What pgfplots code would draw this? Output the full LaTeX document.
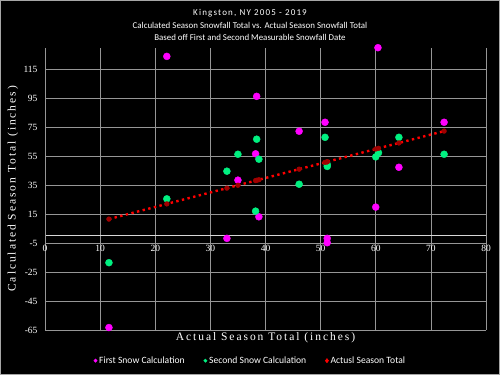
\documentclass[border=0pt]{standalone}
\usepackage{fontspec}
\setmainfont{Liberation Serif}
\newfontfamily\calibri{Carlito}
\newfontfamily\calibrisp[LetterSpace=13]{Carlito}
\newfontfamily\timessp[LetterSpace=17]{Liberation Serif}
\usepackage{pgfplots}
\pgfplotsset{compat=1.18}
\definecolor{mag}{RGB}{255,0,255}
\definecolor{grn}{RGB}{0,240,128}
\definecolor{gridc}{RGB}{150,150,150}
\definecolor{darkred}{RGB}{160,0,0}
\definecolor{axisc}{RGB}{215,215,215}

\begin{document}
\begin{tikzpicture}
\fill[black] (0,0) rectangle (500bp,375bp);
\draw[gray!70, line width=1bp] (0.5bp,0.5bp) rectangle (499.5bp,374.5bp);
\node[white, font=\calibrisp\fontsize{9bp}{11bp}\selectfont] at (250bp,362bp) {Kingston, NY 2005 - 2019};
\node[white, font=\calibri\fontsize{8.9bp}{10bp}\selectfont] at (250bp,350bp) {Calculated Season Snowfall Total vs. Actual Season Snowfall Total};
\node[white, font=\calibri\fontsize{8.9bp}{10bp}\selectfont] at (250bp,338bp) {Based off First and Second Measurable Snowfall Date};
\begin{axis}[
  at={(45bp,45bp)}, anchor=south west,
  scale only axis, width=441bp, height=282.3bp,
  xmin=0, xmax=80, ymin=-65, ymax=130,
  axis x line*=middle, axis y line*=left,
  hide obscured x ticks=false, hide obscured y ticks=false,
  x axis line style={axisc, line width=1bp, -},
  y axis line style={gridc, line width=0.6bp, -},
  xtick={0,10,...,80}, ytick={-65,-45,...,115},
  major tick length=0pt,
  grid=major, grid style={gridc, line width=0.6bp},
  /pgf/number format/assume math mode=true,
  tick label style={white, font=\fontsize{9.5bp}{10bp}\selectfont},
  xticklabel style={yshift=-6bp},
  yticklabel style={xshift=-4bp},
  every axis x label/.style={at={(axis description cs:0.5,-0.0283)}, anchor=center},
  every axis y label/.style={at={(axis description cs:-0.0726,0.5)}, rotate=90, anchor=center},
  xlabel={\timessp\fontsize{11.5bp}{12bp}\selectfont Actual Season Total (inches)},
  ylabel={\timessp\fontsize{11.5bp}{12bp}\selectfont Calculated Season Total (inches)},
  label style={white},
  legend style={at={(axis description cs:0.466,-0.1087)}, anchor=center, draw=none, fill=none,
    text=white, font=\calibri\fontsize{9.6bp}{10bp}\selectfont,
    /tikz/every even column/.append style={column sep=17bp}},
  legend columns=3,
  legend cell align=left,
]
\addplot[forget plot, only marks, mark=*, mark size=3.5bp, mark options={fill=mag, draw=mag}]
  coordinates {
  (11.6,-63.3) (22.1,124.0) (33.0,-1.7) (35.0,38.5) (38.2,56.7) (38.4,96.4)
  (38.8,13.2) (46.1,72.3) (50.8,78.5) (51.2,-1.7) (51.2,-4.7) (60.0,19.9)
  (60.4,130.0) (64.2,47.4) (72.4,78.5)
  };
\addplot[forget plot, only marks, mark=*, mark size=3.5bp, mark options={fill=grn, draw=grn}]
  coordinates {
  (11.6,-18.5) (22.1,25.6) (33.0,44.7) (35.0,56.4) (38.2,17.1) (38.4,66.8)
  (38.8,53.0) (46.1,35.7) (50.8,68.1) (51.2,49.3) (51.2,48.0) (60.0,54.6)
  (60.5,57.4) (64.2,68.1) (72.4,56.4)
  };
\addplot[forget plot, red, line width=2.4bp, dash pattern=on 2.4bp off 3.4bp,
  mark=*, mark size=2.4bp, mark options={solid, fill=darkred, draw=darkred, line width=0.4bp}]
  coordinates {
  (11.6,11.6) (22.1,22.1) (33.0,33.0) (35.0,35.0) (38.2,38.2) (38.4,38.4)
  (38.8,38.8) (46.1,46.1) (50.8,50.8) (51.2,51.2) (51.2,51.2) (60.0,60.0)
  (60.5,60.5) (64.2,64.2) (72.4,72.4)
  };
\addlegendimage{only marks, mark=*, mark size=1.7bp, mag, mark options={fill=mag, draw=mag}}
\addlegendentry{First Snow Calculation}
\addlegendimage{only marks, mark=*, mark size=1.7bp, grn, mark options={fill=grn, draw=grn}}
\addlegendentry{Second Snow Calculation}
\addlegendimage{only marks, mark=diamond*, mark size=2.2bp, red, mark options={fill=red, draw=red}}
\addlegendentry{Actusl Season Total}
\end{axis}
\end{tikzpicture}
\end{document}
